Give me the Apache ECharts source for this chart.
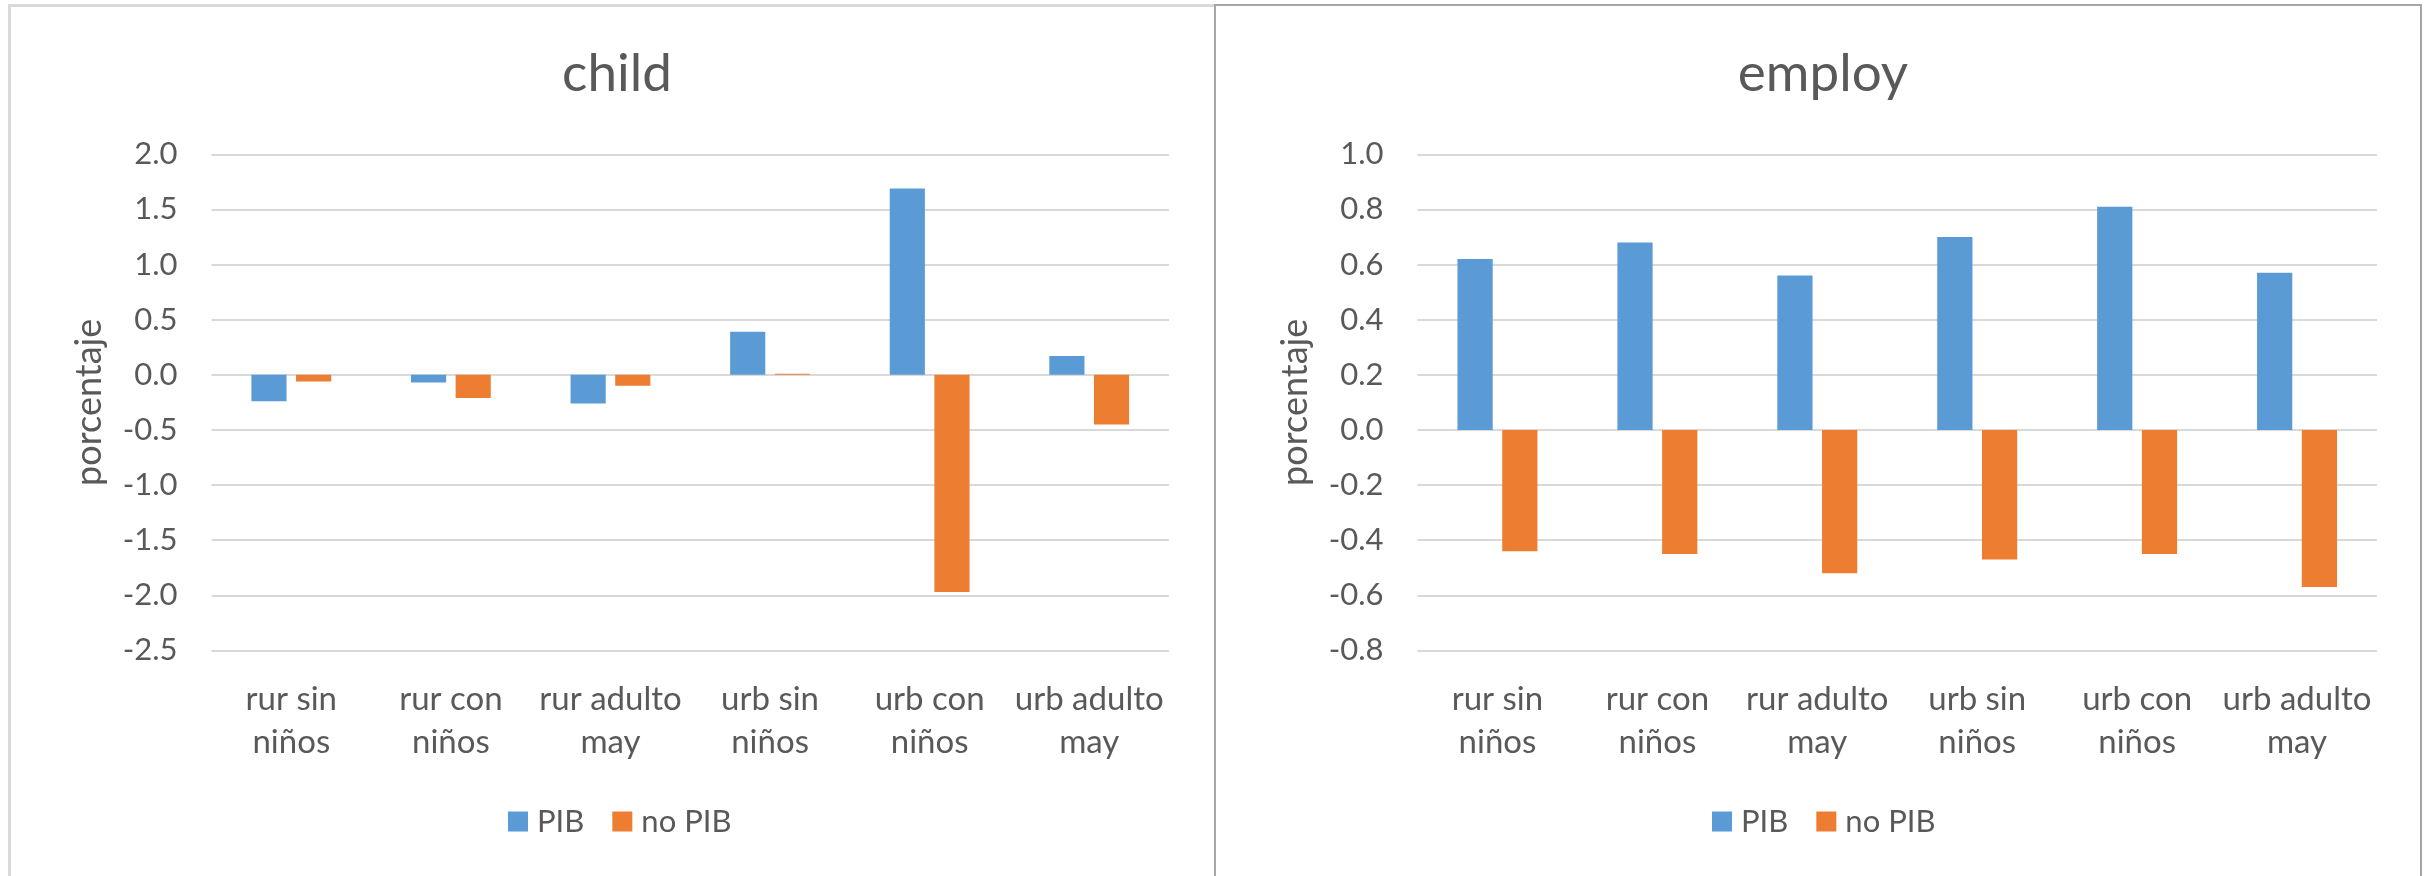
<!DOCTYPE html>
<html>
<head>
<meta charset="utf-8">
<script src="https://cdn.jsdelivr.net/npm/echarts@6/dist/echarts.min.js"></script>
<style>
  html, body { margin: 0; padding: 0; background: #fff; width: 2435px; height: 876px; overflow: hidden; }
  #panelL { position: absolute; left: 8px; top: 4px; width: 1206px; height: 900px;
            border-left: 3px solid #D9D9D9; border-top: 3px solid #D9D9D9; box-sizing: border-box; }
  #panelR { position: absolute; left: 1214px; top: 4px; width: 1208px; height: 900px;
            border: 2px solid #A6A6A6; box-sizing: border-box; }
  #chart { position: absolute; left: 0; top: 0; width: 2435px; height: 876px; }
</style>
</head>
<body>
<div id="panelL"></div>
<div id="panelR"></div>
<div id="chart"></div>
<script>
// Household groups on the category axis
const categories = ['rur sin\nniños', 'rur con\nniños', 'rur adulto\nmay', 'urb sin\nniños', 'urb con\nniños', 'urb adulto\nmay'];
const seriesNames = ['PIB', 'no PIB'];

// "child" panel values (porcentaje)
const childPIB   = [-0.24, -0.07, -0.26, 0.39, 1.69, 0.17];
const childNoPIB = [-0.06, -0.21, -0.10, 0.01, -1.97, -0.45];

// "employ" panel values (porcentaje)
const employPIB   = [0.62, 0.68, 0.56, 0.70, 0.81, 0.57];
const employNoPIB = [-0.44, -0.45, -0.52, -0.47, -0.45, -0.57];

// Value-axis ranges
const childAxis  = { min: -2.5, max: 2.0, interval: 0.5 };
const employAxis = { min: -0.8, max: 1.0, interval: 0.2 };

const FONT = 'Lato';
const TEXT = '#595959';
const GRID = '#D9D9D9';
const COLORS = ['#5B9BD5', '#ED7D31'];

function yAxisFor(gridIndex, range) {
  return {
    type: 'value', gridIndex: gridIndex,
    min: range.min, max: range.max, interval: range.interval,
    name: 'porcentaje', nameLocation: 'middle', nameGap: 104, nameRotate: 90,
    nameTextStyle: { fontFamily: FONT, fontSize: 36, color: TEXT },
    axisLine: { show: false }, axisTick: { show: false },
    axisLabel: { fontFamily: FONT, fontSize: 31, color: TEXT, margin: 34,
                 formatter: v => v.toFixed(1) },
    splitLine: { show: true, lineStyle: { color: GRID, width: 2 } }
  };
}

function xAxisFor(gridIndex) {
  return {
    type: 'category', gridIndex: gridIndex, data: categories,
    axisLine: { show: false }, axisTick: { show: false },
    axisLabel: { interval: 0, fontFamily: FONT, fontSize: 33, color: TEXT,
                 lineHeight: 43, margin: 27 },
    splitLine: { show: false }
  };
}

function barSeries(name, idx, data, color) {
  return {
    type: 'bar', name: name, xAxisIndex: idx, yAxisIndex: idx, data: data,
    barCategoryGap: '50%', barGap: '27%',
    itemStyle: { color: color },
    emphasis: { disabled: true }
  };
}

function legendAt(left) {
  return {
    left: left, top: 806, padding: 0, itemWidth: 20, itemHeight: 20, itemGap: 28,
    icon: 'rect', data: seriesNames,
    textStyle: { fontFamily: FONT, fontSize: 31, color: TEXT, padding: [0, 0, 0, 4] }
  };
}

const chart = echarts.init(document.getElementById('chart'), null, { renderer: 'canvas' });
chart.setOption({
  animation: false,
  backgroundColor: 'transparent',
  textStyle: { fontFamily: FONT },
  title: [
    { text: 'child', left: 612, top: 42, textAlign: 'center',
      textStyle: { fontFamily: FONT, fontSize: 53, fontWeight: 'normal', color: TEXT } },
    { text: 'employ', left: 1818, top: 42, textAlign: 'center',
      textStyle: { fontFamily: FONT, fontSize: 53, fontWeight: 'normal', color: TEXT } }
  ],
  legend: [legendAt(508), legendAt(1712)],
  grid: [
    { left: 211.5, top: 154.3, width: 957.5, height: 496.1 },
    { left: 1417.5, top: 154.3, width: 959.5, height: 496.1 }
  ],
  xAxis: [xAxisFor(0), xAxisFor(1)],
  yAxis: [yAxisFor(0, childAxis), yAxisFor(1, employAxis)],
  series: [
    barSeries(seriesNames[0], 0, childPIB, COLORS[0]),
    barSeries(seriesNames[1], 0, childNoPIB, COLORS[1]),
    barSeries(seriesNames[0], 1, employPIB, COLORS[0]),
    barSeries(seriesNames[1], 1, employNoPIB, COLORS[1])
  ]
});
</script>
</body>
</html>
